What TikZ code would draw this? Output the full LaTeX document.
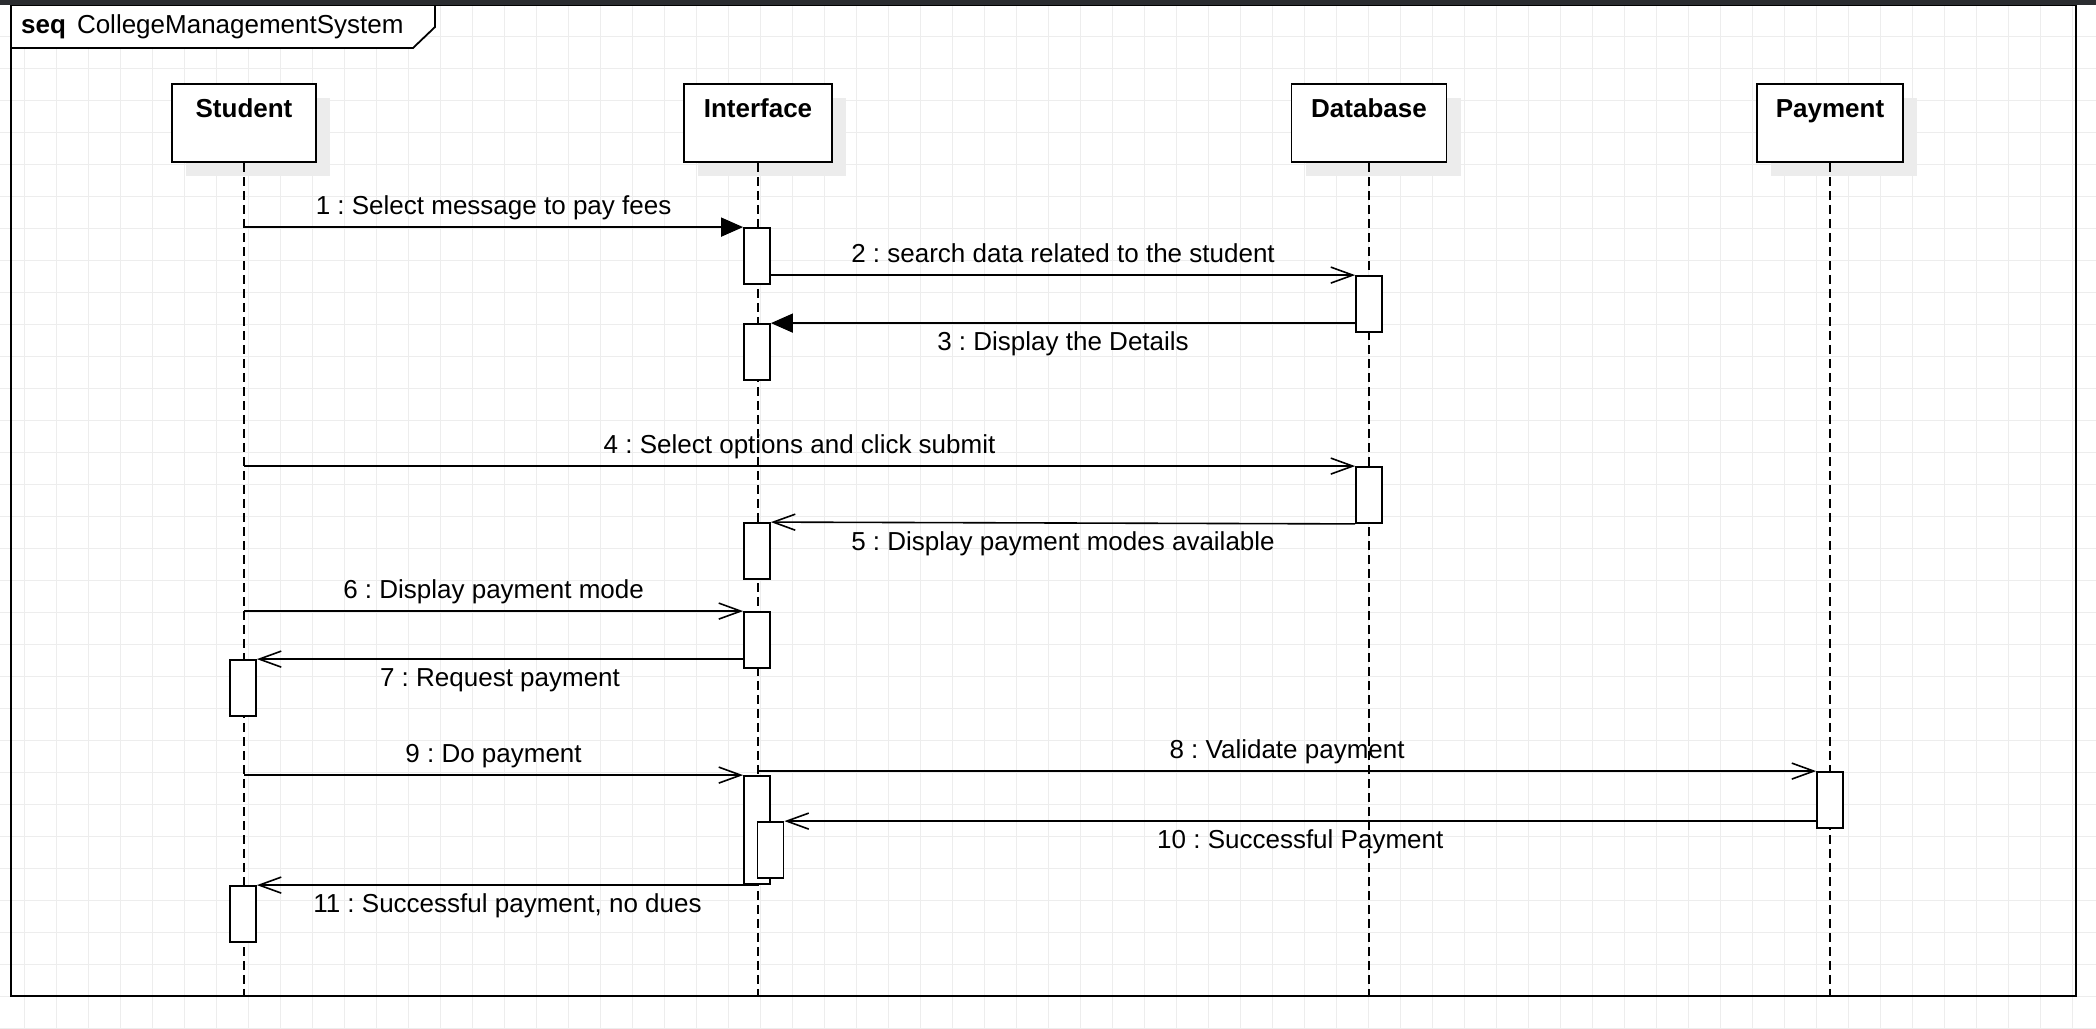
\documentclass[tikz,border=0pt]{standalone}
\usepackage{fontspec}
\setmainfont{Liberation Sans}
\usetikzlibrary{arrows.meta,shadows}
\definecolor{gridc}{RGB}{237,237,237}
\definecolor{shadowc}{RGB}{236,236,236}
\definecolor{barc}{RGB}{43,45,48}
\frenchspacing
\begin{document}
\begin{tikzpicture}[x=1pt,y=-1pt,
  every node/.style={font=\fontsize{26}{31}\selectfont},
  head/.style={draw, line width=1.8pt, fill=white, minimum height=78pt, inner ysep=0pt,
    text height=33pt, text depth=45pt, font=\fontsize{26}{31}\selectfont\bfseries,
    drop shadow={shadow xshift=14pt, shadow yshift=-14pt, fill=shadowc, opacity=1}},
  lifeline/.style={line width=1.5pt, dash pattern=on 9pt off 5pt},
  act/.style={draw, line width=1.8pt, fill=white, minimum width=26pt, inner sep=0pt},
  msg/.style={line width=1.6pt, -{Straight Barb[length=22pt,width=16pt]}},
  smsg/.style={line width=1.6pt, -{Triangle[length=22pt,width=19pt]}},
  lblA/.style={anchor=base, yshift=12.7pt, inner sep=0pt},
  lblB/.style={anchor=base, yshift=-27.7pt, inner sep=0pt}
]
\useasboundingbox (0,0) rectangle (2096,1028);
\fill[white] (0,0) rectangle (2096,1028);
% grid
\foreach \x in {24,56,...,2096} \draw[gridc, line width=1pt] (\x,0) -- (\x,1028);
\foreach \y in {4,36,...,1028} \draw[gridc, line width=1pt] (0,\y) -- (2096,\y);

% frame
\draw[line width=1.8pt] (11,5) rectangle (2076,996);
\draw[line width=1.8pt, fill=white] (11,5) -- (11,48) -- (413,48) -- (435,27) -- (435,5) -- cycle;
\node[anchor=base west, inner sep=0pt] (title) at (21,33.3) {\textbf{seq}\hspace{11pt}CollegeManagementSystem};
\coordinate (fb) at (0,996);

% heads
\node[head, minimum width=144pt] (student) at (244,123) {Student};
\node[head, minimum width=148pt] (interface) at (758,123) {Interface};
\node[head, minimum width=155pt] (database) at (1369,123) {Database};
\node[head, minimum width=146pt] (payment) at (1830,123) {Payment};

% lifelines
\draw[lifeline] (student.south) -- (student.south |- fb);
\draw[lifeline] (interface.south) -- (interface.south |- fb);
\draw[lifeline] (database.south) -- (database.south |- fb);
\draw[lifeline] (payment.south) -- (payment.south |- fb);

% activations
\node[act, minimum height=56pt] (i1) at (757,256) {};
\node[act, minimum height=56pt] (d1) at (1369,304) {};
\node[act, minimum height=56pt] (i2) at (757,352) {};
\node[act, minimum height=56pt] (d2) at (1369,495) {};
\node[act, minimum height=56pt] (i3) at (757,551) {};
\node[act, minimum height=56pt] (i4) at (757,640) {};
\node[act, minimum height=56pt] (s1) at (243,688) {};
\node[act, minimum height=108pt] (i5) at (757,830) {};
\node[act, minimum height=56pt] (p1) at (1830,800) {};
\node[act, minimum height=56pt] (i6) at (770.5,850) {};
\node[act, minimum height=56pt] (s2) at (243,914) {};

% messages
\draw[smsg] (student.south |- i1.north) -- (i1.north west)
  node[lblA, midway] (l1) {1 : Select message to pay fees};
\draw[msg] (i1.east |- d1.north) -- (d1.north west)
  node[lblA, midway] (l2) {2 : search data related to the student};
\draw[smsg] (d1.west |- i2.north) -- (i2.north east)
  node[lblB, midway] (l3) {3 : Display the Details};
\draw[msg] (student.south |- d2.north) -- (d2.north west)
  node[lblA, midway] (l4) {4 : Select options and click submit};
\draw[msg] (d2.south west) -- (i3.north east)
  node[lblB, midway] (l5) {5 : Display payment modes available};
\draw[msg] (student.south |- i4.north) -- (i4.north west)
  node[lblA, midway] (l6) {6 : Display payment mode};
\draw[msg] (i4.west |- s1.north) -- (s1.north east)
  node[lblB, midway] (l7) {7 : Request payment};
\draw[msg] (student.south |- i5.north) -- (i5.north west)
  node[lblA, midway] (l9) {9 : Do payment};
\draw[msg] (interface.south |- p1.north) -- (p1.north west)
  node[lblA, midway] (l8) {8 : Validate payment};
\draw[msg] (p1.west |- i6.north) -- (i6.north east)
  node[lblB, midway] (l10) {10 : Successful Payment};
\draw[msg] (interface.south |- s2.north) -- (s2.north east)
  node[lblB, midway] (l11) {11 : Successful payment, no dues};

% top bar
\fill[barc] (0,0) rectangle (2096,4.5);
\end{tikzpicture}
\end{document}
